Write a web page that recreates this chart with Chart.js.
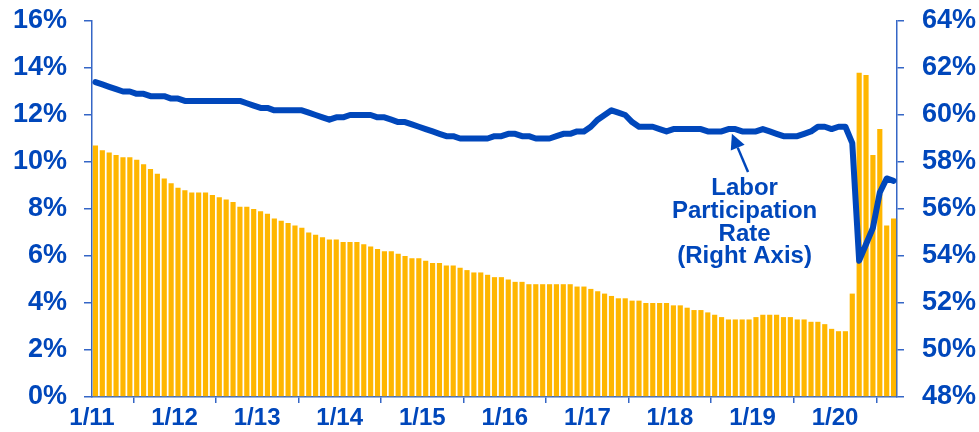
<!DOCTYPE html>
<html><head><meta charset="utf-8">
<script src="https://cdn.jsdelivr.net/npm/chart.js@4.4.0/dist/chart.umd.min.js"></script>
<style>html,body{margin:0;padding:0;background:#fff;}#wrap{width:979px;height:432px;}</style>
</head><body><div id="wrap"><canvas id="c" width="979" height="432"></canvas></div>
<script>
// Monthly data, Jan 2011 .. Sep 2020
const unemploymentRate = [
  10.7,10.5,10.4,10.3,10.2,10.2,10.1,9.9,9.7,9.5,9.3,9.1,
  8.9,8.8,8.7,8.7,8.7,8.6,8.5,8.4,8.3,8.1,8.1,8.0,
  7.9,7.8,7.6,7.5,7.4,7.3,7.2,7.0,6.9,6.8,6.7,6.7,
  6.6,6.6,6.6,6.5,6.4,6.3,6.2,6.2,6.1,6.0,5.9,5.9,
  5.8,5.7,5.7,5.6,5.6,5.5,5.4,5.3,5.3,5.2,5.1,5.1,
  5.0,4.9,4.9,4.8,4.8,4.8,4.8,4.8,4.8,4.8,4.7,4.7,
  4.6,4.5,4.4,4.3,4.2,4.2,4.1,4.1,4.0,4.0,4.0,4.0,
  3.9,3.9,3.8,3.7,3.7,3.6,3.5,3.4,3.3,3.3,3.3,3.3,
  3.4,3.5,3.5,3.5,3.4,3.4,3.3,3.3,3.2,3.2,3.1,2.9,
  2.8,2.8,4.4,13.8,13.7,10.3,11.4,7.3,7.6
];
const participationRate = [
  61.4,61.3,61.2,61.1,61.0,61.0,60.9,60.9,60.8,60.8,60.8,60.7,
  60.7,60.6,60.6,60.6,60.6,60.6,60.6,60.6,60.6,60.6,60.5,60.4,
  60.3,60.3,60.2,60.2,60.2,60.2,60.2,60.1,60.0,59.9,59.8,59.9,
  59.9,60.0,60.0,60.0,60.0,59.9,59.9,59.8,59.7,59.7,59.6,59.5,
  59.4,59.3,59.2,59.1,59.1,59.0,59.0,59.0,59.0,59.0,59.1,59.1,
  59.2,59.2,59.1,59.1,59.0,59.0,59.0,59.1,59.2,59.2,59.3,59.3,
  59.5,59.8,60.0,60.2,60.1,60.0,59.7,59.5,59.5,59.5,59.4,59.3,
  59.4,59.4,59.4,59.4,59.4,59.3,59.3,59.3,59.4,59.4,59.3,59.3,
  59.3,59.4,59.3,59.2,59.1,59.1,59.1,59.2,59.3,59.5,59.5,59.4,
  59.5,59.5,58.8,53.8,54.5,55.2,56.7,57.3,57.2
];
const xTickLabels = ['1/11','1/12','1/13','1/14','1/15','1/16','1/17','1/18','1/19','1/20'];
const annotationLines = ['Labor','Participation','Rate','(Right Axis)'];

const BLUE = '#0047BB';
const AXIS = '#3566C6';
const GOLD = '#FFB600';
const FONT = "'Liberation Sans', Arial, sans-serif";

// annotation anchors in data units (x: month, y: right-axis %)
const note = { x: 94.85, ys: [56.89, 55.92, 54.94, 54.0], tip: {x: 93.0, y: 59.2}, tail: {x: 95.35, y: 57.57} };

const annotationPlugin = {
  id: 'note',
  afterDatasetsDraw(chart) {
    const ctx = chart.ctx, xs = chart.scales.x, ys = chart.scales.y2;
    ctx.save();
    ctx.fillStyle = BLUE; ctx.strokeStyle = BLUE;
    ctx.font = "bold 24px " + FONT;
    ctx.textAlign = 'center'; ctx.textBaseline = 'middle';
    const tx = xs.getPixelForValue(note.x);
    annotationLines.forEach((t, k) => ctx.fillText(t, tx, ys.getPixelForValue(note.ys[k])));
    const x1 = xs.getPixelForValue(note.tail.x), y1 = ys.getPixelForValue(note.tail.y);
    const x2 = xs.getPixelForValue(note.tip.x), y2 = ys.getPixelForValue(note.tip.y);
    const ang = Math.atan2(y2 - y1, x2 - x1), hl = 15, hw = 7.5;
    const bx = x2 - hl * Math.cos(ang), by = y2 - hl * Math.sin(ang);
    ctx.lineWidth = 2.5;
    ctx.beginPath(); ctx.moveTo(x1, y1); ctx.lineTo(bx, by); ctx.stroke();
    ctx.beginPath();
    ctx.moveTo(x2, y2);
    ctx.lineTo(bx + hw * Math.sin(ang), by - hw * Math.cos(ang));
    ctx.lineTo(bx - hw * Math.sin(ang), by + hw * Math.cos(ang));
    ctx.closePath(); ctx.fill();
    ctx.restore();
  }
};

const xFont = { family: FONT, size: 24, weight: 'bold' };
const yFont = { family: FONT, size: 27, weight: 'bold' };
const noPad = s => { s.paddingTop = 0; s.paddingBottom = 0; s.paddingLeft = 0; s.paddingRight = 0; };

new Chart(document.getElementById('c'), {
  type: 'bar',
  data: {
    datasets: [
      { type: 'line', data: participationRate.map((v, i) => ({ x: i + 0.5, y: v })), yAxisID: 'y2',
        borderColor: BLUE, borderWidth: 6, pointRadius: 0, tension: 0, order: 0,
        borderJoinStyle: 'round', borderCapStyle: 'round' },
      { type: 'bar', data: unemploymentRate.map((v, i) => ({ x: i + 0.5, y: v })), yAxisID: 'y',
        backgroundColor: GOLD, barPercentage: 0.75, categoryPercentage: 1, order: 1 }
    ]
  },
  options: {
    responsive: false, animation: false, devicePixelRatio: 1,
    layout: { padding: { top: 21, left: 0, right: 0, bottom: 0 } },
    plugins: { legend: { display: false }, tooltip: { enabled: false } },
    scales: {
      x: {
        type: 'linear', min: 0, max: unemploymentRate.length, offset: false,
        afterBuildTicks: s => { s.ticks = xTickLabels.map((_, k) => ({ value: k * 12 })); },
        ticks: { callback: v => xTickLabels[Math.round(v / 12)], font: xFont, color: BLUE, padding: 1, maxRotation: 0, autoSkip: false },
        grid: { drawOnChartArea: false, drawTicks: true, tickLength: 6, color: AXIS, lineWidth: 1.5 },
        border: { color: AXIS, width: 1.5 },
        afterFit: s => { s.height = 35; noPad(s); }
      },
      y: {
        position: 'left', min: 0, max: 16,
        ticks: { stepSize: 2, callback: v => v + '%', font: yFont, color: BLUE, padding: 17 },
        grid: { drawOnChartArea: false, tickLength: 8, color: AXIS, lineWidth: 1.5 },
        border: { color: AXIS, width: 1.5 },
        afterFit: s => { s.width = 92; noPad(s); }
      },
      y2: {
        position: 'right', min: 48, max: 64,
        ticks: { stepSize: 2, callback: v => v + '%', font: yFont, color: BLUE, padding: 18 },
        grid: { drawOnChartArea: false, tickLength: 7, color: AXIS, lineWidth: 1.5 },
        border: { color: AXIS, width: 1.5 },
        afterFit: s => { s.width = 82; noPad(s); }
      }
    }
  },
  plugins: [annotationPlugin]
});
</script>
</body></html>
